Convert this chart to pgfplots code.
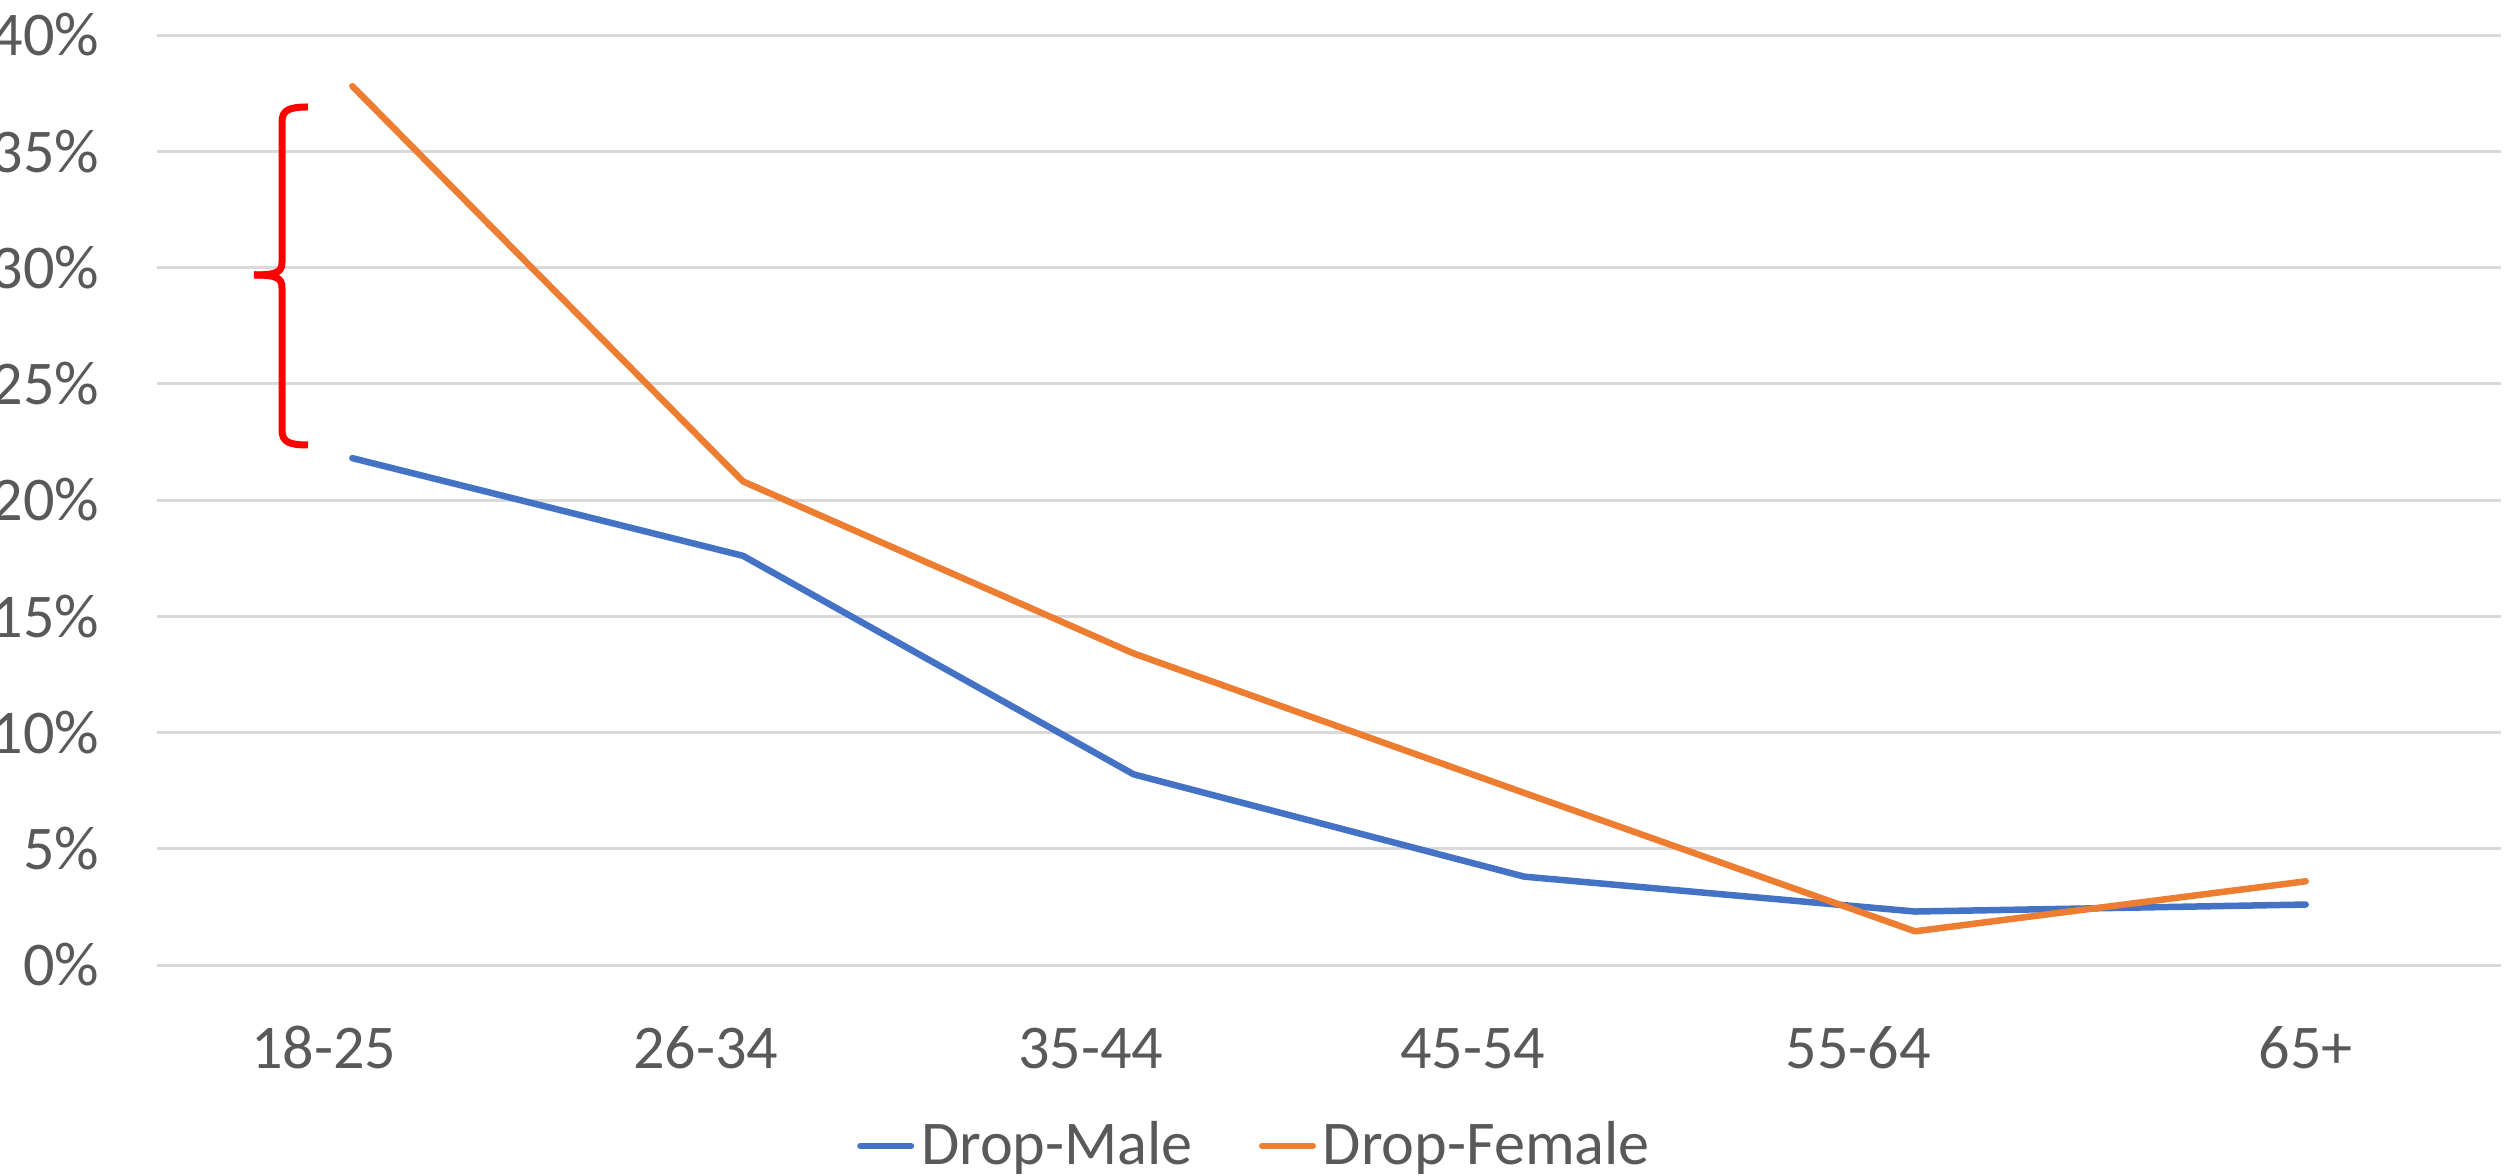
\documentclass[border=0pt]{standalone}
\usepackage{pgfplots}
\pgfplotsset{compat=1.18}
\usepackage{fontspec}
\setmainfont{Carlito}

\definecolor{maleblue}{HTML}{4472C4}
\definecolor{femaleorange}{HTML}{ED7D31}
\definecolor{gridgray}{HTML}{D9D9D9}
\definecolor{labelgray}{HTML}{595959}

\newcommand{\chartfont}{\fontsize{17.7pt}{21pt}\selectfont}

\begin{document}
\begin{tikzpicture}
\begin{axis}[
  scale only axis,
  at={(0,0)}, anchor=south west,
  width=234.4mm, height=93mm,
  xmin=-0.5, xmax=5.5,
  ymin=0, ymax=40,
  % category labels sit slightly left of their data points
  xtick={-0.073,0.905,1.89,2.868,3.855,5.0},
  xticklabels={18-25,26-34,35-44,45-54,55-64,65+},
  ytick={0,5,10,15,20,25,30,35,40},
  yticklabel={\pgfmathprintnumber{\tick}\%},
  /pgf/number format/assume math mode=true,
  axis line style={draw=none},
  major tick style={draw=none},
  ymajorgrids,
  major grid style={color=gridgray, line width=0.3mm},
  tick label style={font=\chartfont, text=labelgray},
  xticklabel style={anchor=base, inner sep=0pt, yshift=-10.3mm},
  yticklabel style={anchor=east, inner sep=0pt, xshift=-5.7mm},
  legend columns=2,
  legend style={draw=none, fill=none, font=\chartfont, text=labelgray,
    at={(axis description cs:0.4693,-0.1946)}, anchor=center,
    /tikz/every even column/.append style={column sep=5.9mm},
    inner sep=0pt},
  legend image code/.code={\draw[#1, line width=0.6mm, line cap=round] (0mm,0mm) -- (5.1mm,0mm);},
  every axis plot/.append style={line width=0.65mm, line cap=round, line join=round},
]
\addplot[color=maleblue] coordinates {
  (0,21.8) (1,17.6) (2,8.2) (3,3.8) (4,2.3) (5,2.6)
};
\addlegendentry{Drop-Male}
\addplot[color=femaleorange] coordinates {
  (0,37.8) (1,20.8) (2,13.4) (3,7.4) (4,1.45) (5,3.6)
};
\addlegendentry{Drop-Female}
\end{axis}

% red curly bracket beside the 18-25 gap
\draw[red, line width=0.7mm, line cap=butt, line join=round]
  (15.1mm,85.8mm) .. controls (13.2mm,85.8mm) and (12.5mm,85.5mm) .. (12.5mm,84.3mm)
  -- (12.5mm,70.3mm) .. controls (12.5mm,69.3mm) and (12.0mm,69.0mm) .. (9.7mm,69.0mm);
\draw[red, line width=0.7mm, line cap=butt, line join=round]
  (9.7mm,69.0mm) .. controls (12.0mm,69.0mm) and (12.5mm,68.7mm) .. (12.5mm,67.7mm)
  -- (12.5mm,53.5mm) .. controls (12.5mm,52.3mm) and (13.2mm,52.0mm) .. (15.1mm,52.0mm);

\pgfresetboundingbox
\useasboundingbox (-15.7mm,-21mm) rectangle (235.2mm,96.5mm);
\end{tikzpicture}
\end{document}
